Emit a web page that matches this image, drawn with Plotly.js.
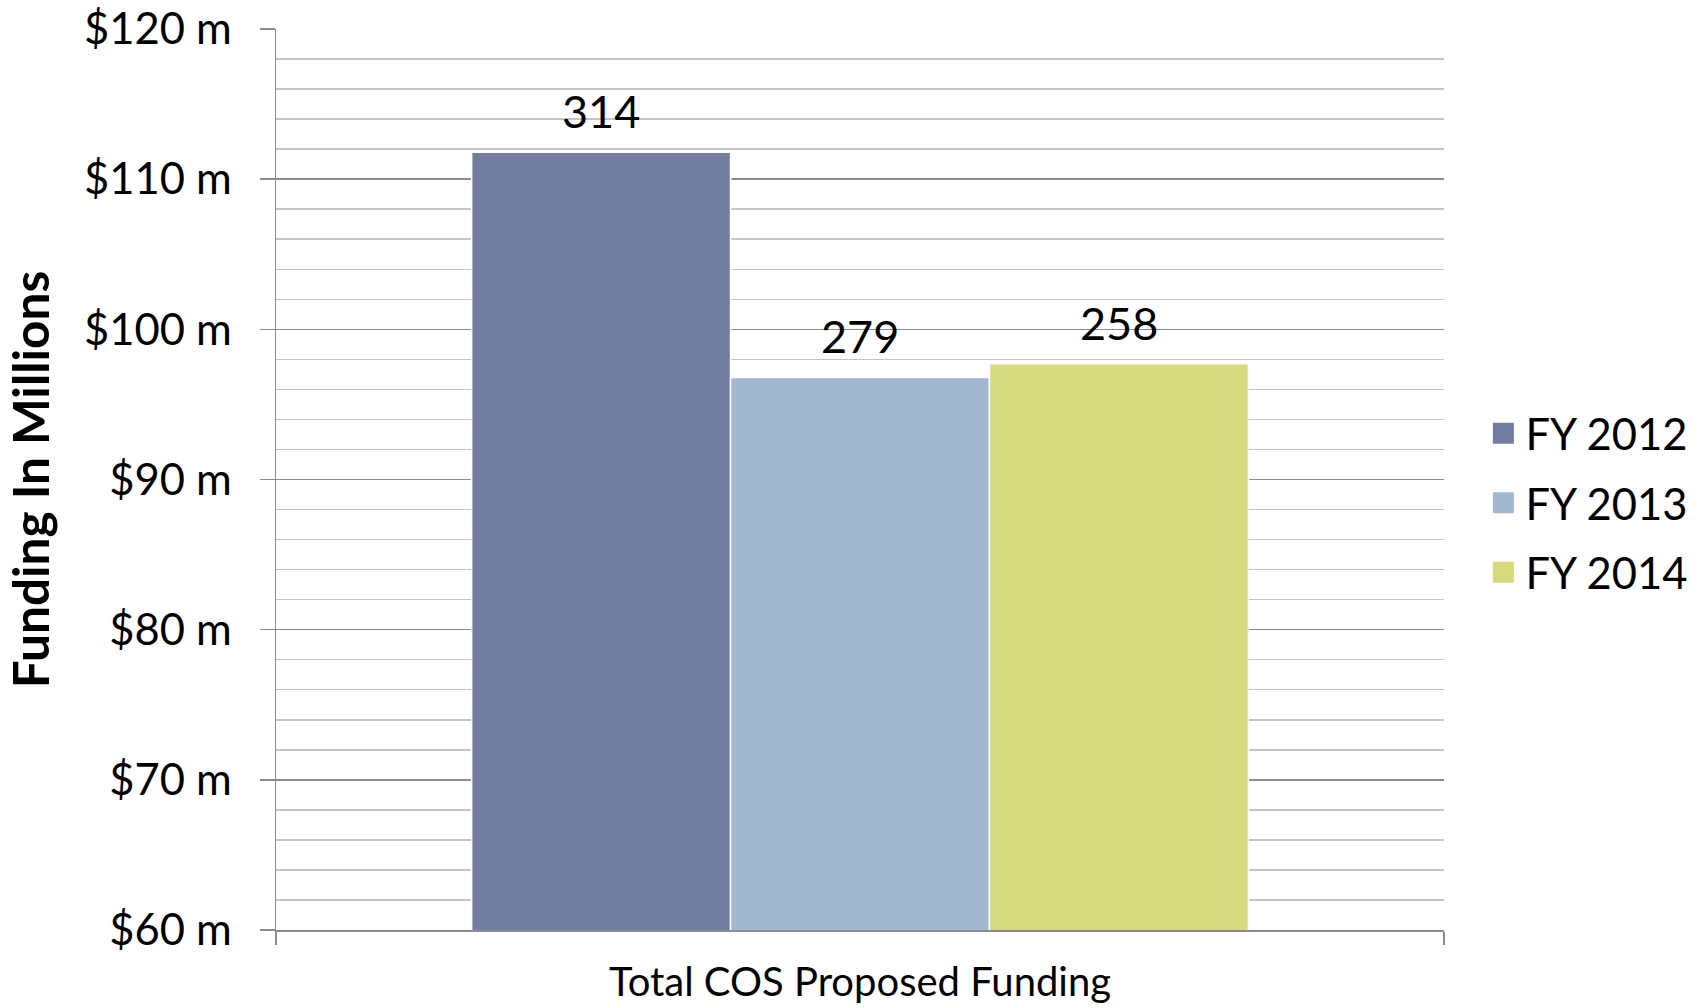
<!DOCTYPE html>
<html>
<head>
<meta charset="utf-8">
<script src="https://cdn.plot.ly/plotly-3.0.1.min.js"></script>
<style>html,body{margin:0;padding:0;background:#fff;}#chart{width:1705px;height:1008px;}</style>
</head>
<body>
<div id="chart"></div>
<script>
const categories = ["Total COS Proposed Funding"];
const seriesNames = ["FY 2012", "FY 2013", "FY 2014"];
const seriesValues = [[111.8], [96.8], [97.7]];
const seriesLabels = [["314"], ["279"], ["258"]];
const seriesColors = ["#737ca1", "#a2b8cf", "#d5db7c"];
const tickVals = [60, 70, 80, 90, 100, 110, 120];
const tickText = ["$60 m", "$70 m", "$80 m", "$90 m", "$100 m", "$110 m", "$120 m"];

const FONT = "Lato, 'Open Sans', sans-serif";
const BARGAP = 0.335;
const nSeries = seriesNames.length;
const barW = (1 - BARGAP) / nSeries;

const traces = [];
const annotations = [];
seriesNames.forEach((name, i) => {
  traces.push({
    type: "bar",
    name: name,
    x: categories,
    y: seriesValues[i],
    marker: {color: seriesColors[i], line: {color: "#ffffff", width: 1.5}},
    showlegend: false,
    legendgroup: name,
    hoverinfo: "skip"
  });
  categories.forEach((c, k) => {
    annotations.push({
      xref: "x", yref: "y",
      x: k + (i - (nSeries - 1) / 2) * barW,
      y: seriesValues[i][k],
      yshift: 41,
      yanchor: "middle",
      xanchor: "center",
      showarrow: false,
      text: seriesLabels[i][k],
      font: {family: FONT, size: 45, color: "#000"}
    });
  });
});
seriesNames.forEach((name, i) => {
  traces.push({
    type: "scatter",
    mode: "markers",
    name: name,
    x: [null],
    y: [null],
    marker: {symbol: "square", size: 16, color: seriesColors[i], line: {color: seriesColors[i], width: 5}},
    legendgroup: name,
    showlegend: true,
    hoverinfo: "skip"
  });
});

const layout = {
  width: 1705,
  height: 1008,
  margin: {l: 276, r: 258, t: 29, b: 78},
  paper_bgcolor: "#fff",
  plot_bgcolor: "#fff",
  barmode: "group",
  bargap: BARGAP,
  bargroupgap: 0,
  font: {family: FONT, color: "#000"},
  showlegend: true,
  annotations: annotations,
  legend: {
    x: 1.032, xanchor: "left", y: 0.474, yanchor: "middle",
    font: {family: FONT, size: 43.5, color: "#000"},
    tracegroupgap: 10,
    itemwidth: 34,
    bgcolor: "rgba(0,0,0,0)"
  },
  xaxis: {
    type: "category",
    tickson: "boundaries",
    ticks: "outside",
    ticklen: 13,
    tickcolor: "#8c8c8c",
    tickwidth: 1.5,
    showline: true,
    linecolor: "#8c8c8c",
    linewidth: 1.5,
    showgrid: false,
    tickfont: {family: FONT, size: 40, color: "#000"},
    ticklabelstandoff: 16,
    fixedrange: true
  },
  yaxis: {
    range: [60, 120],
    tickmode: "array",
    tickvals: tickVals,
    ticktext: tickText,
    ticks: "outside",
    ticklen: 15,
    tickcolor: "#8c8c8c",
    tickwidth: 1.5,
    ticklabelstandoff: 19,
    tickfont: {family: FONT, size: 43.5, color: "#000"},
    showline: true,
    linecolor: "#8c8c8c",
    linewidth: 1.5,
    showgrid: true,
    gridcolor: "#8c8c8c",
    gridwidth: 1.5,
    zeroline: false,
    minor: {dtick: 2, showgrid: true, gridcolor: "#c4c4c4", gridwidth: 1.5, ticks: ""},
    title: {text: "<b>Funding In Millions</b>", font: {family: FONT, size: 49.5, color: "#000"}, standoff: 18},
    fixedrange: true
  }
};

Plotly.newPlot("chart", traces, layout, {displayModeBar: false, staticPlot: true});
</script>
</body>
</html>
